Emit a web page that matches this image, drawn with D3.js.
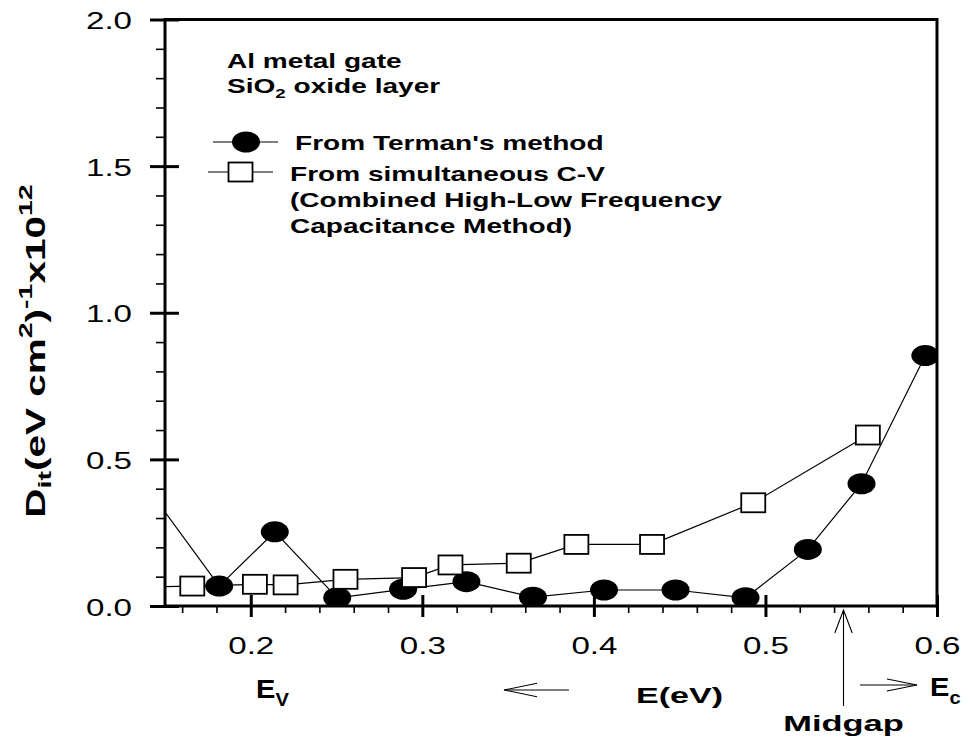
<!DOCTYPE html>
<html><head><meta charset="utf-8">
<script src="https://cdn.jsdelivr.net/npm/d3@7"></script>
<style>
body{margin:0;background:#fff;}
svg{display:block;font-family:"Liberation Sans",Arial,sans-serif;}
</style></head>
<body><svg id="c" width="972" height="743"></svg>
<script>
// ---- data ----
const termanE   = [0.140, 0.1816, 0.214, 0.2504, 0.2888, 0.3257, 0.3645, 0.4059, 0.4476, 0.4884, 0.5247, 0.556, 0.5932];
const termanDit = [0.400, 0.068, 0.253, 0.028, 0.057, 0.083, 0.030, 0.0545, 0.0545, 0.028, 0.193, 0.417, 0.854];
const cvE   = [0.140, 0.1659, 0.2024, 0.2203, 0.2552, 0.2952, 0.3164, 0.3562, 0.3898, 0.4339, 0.4929, 0.5597];
const cvDit = [0.065, 0.068, 0.074, 0.072, 0.091, 0.097, 0.140, 0.146, 0.210, 0.210, 0.352, 0.583];
const xMajor = [0.2, 0.3, 0.4, 0.5, 0.6];
const xMajorLabels = ["0.2", "0.3", "0.4", "0.5", "0.6"];
const xMinor = [0.16, 0.18, 0.22, 0.24, 0.26, 0.28, 0.32, 0.34, 0.36, 0.38, 0.42, 0.44, 0.46, 0.48, 0.52, 0.54, 0.56, 0.58];
const yMajor = [0.0, 0.5, 1.0, 1.5, 2.0];
const yMajorLabels = ["0.0", "0.5", "1.0", "1.5", "2.0"];
const yMinor = [0.1, 0.2, 0.3, 0.4, 0.6, 0.7, 0.8, 0.9, 1.1, 1.2, 1.3, 1.4, 1.6, 1.7, 1.8, 1.9];
const midgapE = 0.5455;
const legendLabels = ["From Terman's method", "From simultaneous C-V", "(Combined High-Low Frequency", "Capacitance Method)"];

// ---- layout ----
const L = 165, R = 937, T = 19.5, B = 606;
const x = d3.scaleLinear().domain([0.15, 0.6]).range([L, R]);
const y = d3.scaleLinear().domain([0, 2.0]).range([B, T]);
const svg = d3.select("#c");

svg.append("defs").append("clipPath").attr("id","plot")
  .append("rect").attr("x", L).attr("y", T).attr("width", R - L).attr("height", B - T);

// text helper with horizontal stretch
function stext(g, px, py, sx, size, weight, anchor, parts){
  const t = g.append("text")
    .attr("transform", `translate(${px},${py}) scale(${sx},1)`)
    .attr("font-size", size).attr("font-weight", weight)
    .attr("text-anchor", anchor).attr("fill", "#000");
  parts.forEach(p => {
    const ts = t.append("tspan").text(p.t);
    if (p.size) ts.attr("font-size", p.size);
    if (p.dy) ts.attr("dy", p.dy);
  });
  return t;
}

// ---- axes ----
const yAxisG = svg.append("g").attr("transform", `translate(${L},0)`);
yAxisG.call(d3.axisLeft(y).tickValues(yMajor).tickSize(15).tickFormat((d,i) => yMajorLabels[i]));
yAxisG.select(".domain").remove();
yAxisG.selectAll(".tick line").attr("x2", -15).attr("x1", 14).attr("stroke-width", 3).attr("stroke", "#000");
yAxisG.selectAll(".tick text")
  .attr("x", null).attr("dy", null)
  .attr("transform", "translate(-33,9) scale(1.38,1)")
  .attr("text-anchor", "end").attr("font-size", 24).attr("font-family", "Liberation Sans, Arial, sans-serif").attr("fill", "#000");

const yMinorG = svg.append("g").attr("transform", `translate(${L},0)`);
yMinorG.call(d3.axisLeft(y).tickValues(yMinor).tickSize(9).tickFormat(""));
yMinorG.select(".domain").remove();
yMinorG.selectAll(".tick line").attr("stroke-width", 1.6).attr("stroke", "#000");

const xAxisG = svg.append("g").attr("transform", `translate(0,${B})`);
xAxisG.call(d3.axisBottom(x).tickValues(xMajor).tickSize(11).tickFormat((d,i) => xMajorLabels[i]));
xAxisG.select(".domain").remove();
xAxisG.selectAll(".tick line").attr("y1", -11).attr("y2", 11).attr("stroke-width", 3).attr("stroke", "#000");
xAxisG.selectAll(".tick text")
  .attr("y", null).attr("dy", null)
  .attr("transform", "translate(0,48) scale(1.38,1)")
  .attr("text-anchor", "middle").attr("font-size", 24).attr("font-family", "Liberation Sans, Arial, sans-serif").attr("fill", "#000");

const xMinorG = svg.append("g").attr("transform", `translate(0,${B})`);
xMinorG.call(d3.axisBottom(x).tickValues(xMinor).tickSize(7).tickFormat(""));
xMinorG.select(".domain").remove();
xMinorG.selectAll(".tick line").attr("stroke-width", 1.6).attr("stroke", "#000");

// frame
const frame = svg.append("g").attr("stroke", "#000").attr("stroke-width", 3).attr("fill", "none");
frame.append("line").attr("x1", L).attr("x2", L).attr("y1", T - 1.5).attr("y2", B + 1.5);
frame.append("line").attr("x1", R).attr("x2", R).attr("y1", T - 1.5).attr("y2", B + 1.5);
frame.append("line").attr("x1", L).attr("x2", R).attr("y1", T).attr("y2", T);
frame.append("line").attr("x1", L).attr("x2", R).attr("y1", B).attr("y2", B);

// ---- series ----
const plot = svg.append("g").attr("clip-path", "url(#plot)");
const termanPts = termanE.map((e,i) => ({e, v: termanDit[i]}));
const cvPts = cvE.map((e,i) => ({e, v: cvDit[i]}));
const line = d3.line().x(d => x(d.e)).y(d => y(d.v));

plot.append("path").datum(termanPts).attr("d", line).attr("fill", "none").attr("stroke", "#000").attr("stroke-width", 1.2);
plot.selectAll(".circ").data(termanPts.filter(d => d.e >= 0.15)).enter().append("ellipse")
  .attr("cx", d => x(d.e)).attr("cy", d => y(d.v)).attr("rx", 14).attr("ry", 10.5).attr("fill", "#000");

plot.append("path").datum(cvPts).attr("d", line).attr("fill", "none").attr("stroke", "#000").attr("stroke-width", 1.2);
plot.selectAll(".sq").data(cvPts.filter(d => d.e >= 0.15)).enter().append("rect")
  .attr("x", d => x(d.e) - 12).attr("y", d => y(d.v) - 9.5).attr("width", 24).attr("height", 19)
  .attr("fill", "#fff").attr("stroke", "#000").attr("stroke-width", 1.8);

// ---- annotations ----
const ann = svg.append("g");
stext(ann, 227, 68, 1.44, 19.5, "bold", "start", [{t:"Al metal gate"}]);
stext(ann, 227, 93, 1.44, 19.5, "bold", "start", [{t:"SiO"},{t:"2", size:13, dy:5},{t:" oxide layer", dy:-5}]);

// legend
ann.append("line").attr("x1", 213).attr("x2", 278).attr("y1", 142).attr("y2", 142).attr("stroke", "#000").attr("stroke-width", 1.2);
ann.append("ellipse").attr("cx", 246).attr("cy", 142).attr("rx", 14).attr("ry", 10.5).attr("fill", "#000");
ann.append("line").attr("x1", 208).attr("x2", 273).attr("y1", 172).attr("y2", 172).attr("stroke", "#000").attr("stroke-width", 1.2);
ann.append("rect").attr("x", 228.5).attr("y", 162.5).attr("width", 24).attr("height", 19).attr("fill", "#fff").attr("stroke", "#000").attr("stroke-width", 1.8);
stext(ann, 295, 150, 1.44, 19.5, "bold", "start", [{t:legendLabels[0]}]);
stext(ann, 290, 181, 1.44, 19.5, "bold", "start", [{t:legendLabels[1]}]);
stext(ann, 290, 207, 1.44, 19.5, "bold", "start", [{t:legendLabels[2]}]);
stext(ann, 290, 233, 1.44, 19.5, "bold", "start", [{t:legendLabels[3]}]);

// y label
svg.append("text")
  .attr("transform", "translate(45,351) rotate(-90) scale(1.5,1)")
  .attr("text-anchor", "middle").attr("font-size", 27).attr("font-weight", "bold")
  .call(t => {
    t.append("tspan").text("D");
    t.append("tspan").text("it").attr("font-size", 19).attr("dy", 6);
    t.append("tspan").text("(eV cm").attr("dy", -6);
    t.append("tspan").text("2").attr("font-size", 19).attr("dy", -13);
    t.append("tspan").text(")").attr("dy", 13);
    t.append("tspan").text("-1").attr("font-size", 19).attr("dy", -13);
    t.append("tspan").text("x10").attr("dy", 13);
    t.append("tspan").text("12").attr("font-size", 19).attr("dy", -13);
  });

// bottom annotations
stext(ann, 256, 698, 1.12, 26, "bold", "start", [{t:"E"},{t:"V", size:18, dy:8}]);
stext(ann, 636, 703, 1.55, 22, "bold", "start", [{t:"E(eV)"}]);
stext(ann, x(midgapE), 731, 1.5, 23, "bold", "middle", [{t:"Midgap"}]);
stext(ann, 930, 696, 1.12, 26, "bold", "start", [{t:"E"},{t:"c", size:18, dy:8}]);

const arr = ann.append("g").attr("stroke", "#000").attr("stroke-width", 1.1).attr("fill", "none");
// left arrow
arr.append("line").attr("x1", 504).attr("x2", 569).attr("y1", 690).attr("y2", 690);
arr.append("polyline").attr("points", "537,683.3 504,690 537,696.7");
// right arrow
arr.append("line").attr("x1", 860).attr("x2", 917).attr("y1", 685).attr("y2", 685);
arr.append("polyline").attr("points", "887,679 917,685 887,691");
// midgap arrow
const mx = x(midgapE);
arr.append("line").attr("x1", mx).attr("x2", mx).attr("y1", 610).attr("y2", 706);
arr.append("polyline").attr("points", `${mx-8.7},633 ${mx},610 ${mx+8.7},633`);
</script></body></html>
